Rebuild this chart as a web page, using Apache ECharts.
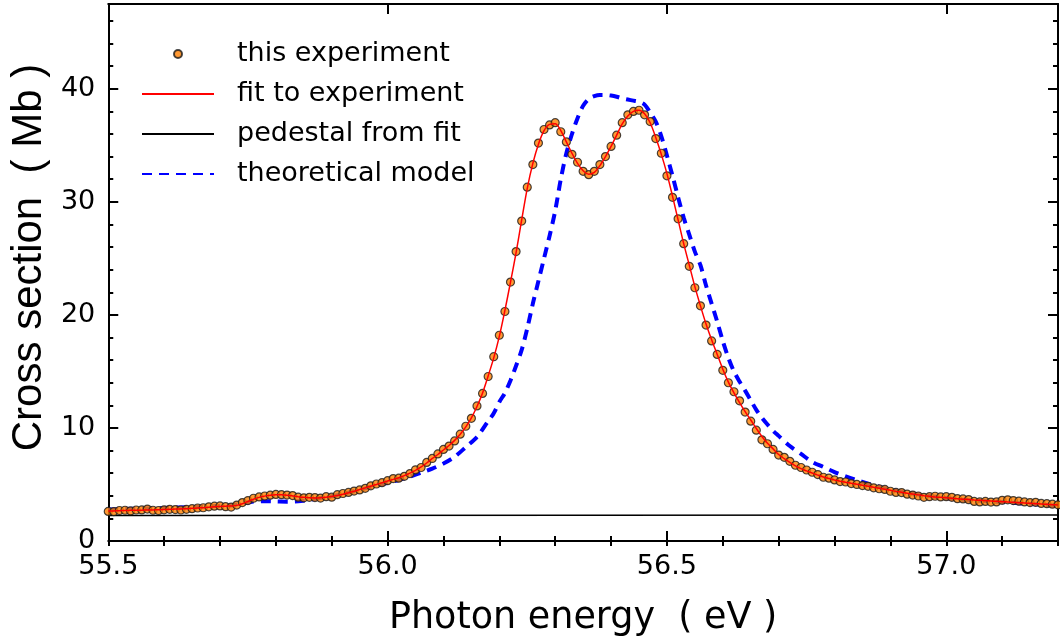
<!DOCTYPE html>
<html>
<head>
<meta charset="utf-8">
<script src="https://cdn.jsdelivr.net/npm/echarts@6/dist/echarts.min.js"></script>
<style>
html,body{margin:0;padding:0;background:#fff;}
#chart{width:1060px;height:642px;}
</style>
</head>
<body>
<div id="chart"></div>
<script>
// Energy grid for experiment and fit (eV), 55.50 .. 57.20 step 0.01
const energyStart = 55.5;
const energyStep = 0.01;

const experiment = [
2.62,2.60,2.70,2.72,2.66,2.74,2.75,2.82,2.72,2.70,
2.76,2.80,2.78,2.74,2.80,2.86,2.92,2.94,3.02,3.08,
3.10,3.04,3.00,3.18,3.40,3.58,3.78,3.90,3.98,4.05,
4.12,4.10,4.06,4.02,3.88,3.82,3.86,3.84,3.80,3.92,
3.88,4.10,4.20,4.30,4.42,4.52,4.66,4.88,5.04,5.16,
5.34,5.52,5.56,5.72,5.96,6.30,6.50,6.95,7.30,7.70,
8.10,8.40,8.85,9.45,10.15,10.85,11.95,13.05,14.55,16.30,
18.20,20.30,22.90,25.60,28.30,31.30,33.30,35.20,36.40,36.80,
37.00,36.20,35.30,34.20,33.50,32.70,32.40,32.70,33.30,34.00,
34.90,35.90,37.00,37.70,38.00,38.10,37.70,37.10,35.60,34.30,
32.30,30.40,28.50,26.30,24.30,22.40,20.80,19.10,17.70,16.50,
15.10,14.00,13.20,12.40,11.40,10.60,9.80,8.95,8.60,8.10,
7.60,7.40,7.05,6.70,6.50,6.28,6.08,5.88,5.64,5.56,
5.40,5.26,5.22,5.08,5.00,4.90,4.84,4.70,4.62,4.56,
4.40,4.30,4.28,4.14,4.06,3.98,3.86,3.92,3.96,3.90,
3.92,3.86,3.74,3.72,3.66,3.50,3.46,3.50,3.44,3.46,
3.60,3.64,3.58,3.52,3.46,3.40,3.42,3.32,3.30,3.26,
3.20
];

const fit = [
2.65,2.66,2.68,2.70,2.71,2.72,2.73,2.74,2.75,2.76,
2.78,2.80,2.82,2.84,2.86,2.89,2.92,2.95,2.99,3.03,
3.06,3.08,3.10,3.15,3.30,3.50,3.70,3.86,3.97,4.04,
4.08,4.08,4.05,3.99,3.92,3.86,3.82,3.81,3.83,3.87,
3.93,4.02,4.13,4.26,4.40,4.55,4.70,4.85,5.00,5.15,
5.30,5.45,5.60,5.78,6.00,6.25,6.55,6.90,7.30,7.65,
8.05,8.45,8.90,9.45,10.10,10.90,11.90,13.10,14.60,16.20,
18.10,20.40,22.90,25.50,28.40,31.20,33.40,35.10,36.30,36.85,
36.90,36.30,35.30,34.30,33.40,32.75,32.45,32.60,33.20,34.00,
34.90,35.90,36.90,37.60,38.00,38.10,37.80,37.00,35.70,34.20,
32.50,30.50,28.40,26.30,24.40,22.50,20.80,19.20,17.80,16.50,
15.20,14.05,13.10,12.25,11.45,10.70,9.95,9.25,8.65,8.15,
7.65,7.28,6.95,6.65,6.40,6.20,6.01,5.83,5.66,5.52,
5.40,5.29,5.19,5.10,5.02,4.93,4.84,4.75,4.66,4.57,
4.48,4.39,4.31,4.23,4.15,4.08,4.01,3.95,3.90,3.86,
3.82,3.78,3.74,3.70,3.67,3.63,3.60,3.57,3.54,3.51,
3.48,3.45,3.42,3.39,3.36,3.33,3.30,3.27,3.24,3.21,
3.18
];

// Theoretical model (eV, Mb)
const theoryEnergy = [
55.50,55.55,55.60,55.65,55.70,55.72,55.74,55.76,55.78,55.80,
55.82,55.84,55.86,55.88,55.90,55.92,55.94,55.96,55.98,56.00,
56.02,56.04,56.06,56.08,56.10,56.12,56.14,56.16,56.18,56.19,
56.20,56.21,56.22,56.23,56.24,56.25,56.26,56.27,56.28,56.29,
56.30,56.31,56.32,56.33,56.34,56.35,56.36,56.37,56.38,56.39,
56.40,56.41,56.42,56.43,56.44,56.45,56.46,56.47,56.48,56.49,
56.50,56.51,56.52,56.53,56.54,56.55,56.56,56.57,56.58,56.59,
56.60,56.61,56.62,56.63,56.64,56.65,56.66,56.67,56.68,56.69,
56.70,56.72,56.74,56.76,56.78,56.80,56.82,56.84,56.86,56.88,
56.90,56.93,56.96,57.00,57.03,57.06,57.10,57.15,57.20
];
const theoryValue = [
2.78,2.85,2.92,3.00,3.10,3.15,3.30,3.50,3.52,3.50,
3.48,3.52,3.65,3.80,3.95,4.15,4.40,4.65,4.90,5.15,
5.40,5.70,6.05,6.40,6.85,7.45,8.30,9.20,10.60,11.30,
12.30,13.10,14.20,15.50,16.90,18.80,21.00,23.00,25.00,27.00,
29.20,32.00,34.30,36.00,37.40,38.50,39.10,39.35,39.45,39.45,
39.40,39.30,39.15,39.05,38.95,38.85,38.60,37.90,37.10,35.80,
34.10,32.30,30.40,28.60,27.10,25.60,24.40,22.60,21.00,19.40,
17.70,16.20,15.00,14.10,13.30,12.45,11.60,10.90,10.30,9.75,
9.30,8.40,7.70,7.00,6.55,6.10,5.72,5.38,5.08,4.80,
4.55,4.27,4.05,3.80,3.64,3.55,3.44,3.28,3.10
];

// Pedestal from fit
const pedestalEnergy = [55.5, 57.2];
const pedestalValue = [2.26, 2.30];

const seriesNames = ['this experiment','fit to experiment','pedestal from fit','theoretical model'];
const xTitle = 'Photon energy  ( eV )';
const yTitle = 'Cross section  ( Mb )';

const grid = (arr) => arr.map((v, i) => [+(energyStart + i * energyStep).toFixed(2), v]);
const pairs = (xs, ys) => xs.map((x, i) => [x, ys[i]]);

const FONT = 'DejaVu Sans, sans-serif';
const FONT_Y = 'Liberation Sans, Arial, sans-serif';
const X_MIN = 55.5, X_MAX = 57.2, Y_MIN = 0, Y_MAX = 47.5;

function xAx(opts) {
  return Object.assign({
    type: 'value', min: X_MIN, max: X_MAX, position: 'bottom',
    axisLine: { show: false },
    axisTick: { show: true, inside: true, length: 10, lineStyle: { color: '#000', width: 2 } },
    axisLabel: { show: false },
    splitLine: { show: false }
  }, opts);
}
function yAx(opts) {
  return Object.assign({
    type: 'value', min: Y_MIN, max: Y_MAX, position: 'left',
    axisLine: { show: false },
    axisTick: { show: true, inside: true, length: 10, lineStyle: { color: '#000', width: 2 } },
    axisLabel: { show: false },
    splitLine: { show: false }
  }, opts);
}
const minorTick = { show: true, inside: true, length: 5, lineStyle: { color: '#000', width: 2 } };
const hideSym = { opacity: 0 };

const chart = echarts.init(document.getElementById('chart'), null, { renderer: 'canvas' });
chart.setOption({
  animation: false,
  backgroundColor: '#fff',
  textStyle: { fontFamily: FONT },
  grid: { left: 107, right: 2, top: 4, bottom: 99, containLabel: false },
  legend: {
    orient: 'vertical', left: 136, top: 29,
    itemWidth: 72, itemHeight: 8, itemGap: 0,
    textStyle: { fontFamily: FONT, fontSize: 27, color: '#000', lineHeight: 40, padding: [0, 0, 0, 18] },
    data: [
      { name: seriesNames[0] },
      { name: seriesNames[1], itemStyle: hideSym },
      { name: seriesNames[2], itemStyle: hideSym },
      { name: seriesNames[3], itemStyle: hideSym }
    ]
  },
  xAxis: [
    xAx({
      interval: 0.5,
      axisLine: { show: true, onZero: false, lineStyle: { color: '#000', width: 2 } },
      axisLabel: { show: true, color: '#000', fontSize: 27, fontFamily: FONT, margin: 12,
        showMaxLabel: false, formatter: (v) => v.toFixed(1) },
      name: xTitle, nameLocation: 'middle', nameGap: 59,
      nameTextStyle: { color: '#000', fontSize: 36.5, fontFamily: FONT }
    }),
    xAx({ interval: 0.1, axisTick: minorTick }),
    xAx({ interval: 0.5, position: 'top',
      axisLine: { show: true, onZero: false, lineStyle: { color: '#000', width: 2 } } }),
    xAx({ interval: 0.1, position: 'top', axisTick: minorTick })
  ],
  yAxis: [
    yAx({
      interval: 10,
      axisLine: { show: true, onZero: false, lineStyle: { color: '#000', width: 2 } },
      axisLabel: { show: true, color: '#000', fontSize: 27, fontFamily: FONT, margin: 13, showMaxLabel: false },
      name: yTitle, nameLocation: 'middle', nameGap: 54, nameRotate: 90,
      nameTextStyle: { color: '#000', fontSize: 42, fontFamily: FONT_Y, padding: [0, 0, 0, 30] }
    }),
    yAx({ interval: 2, axisTick: minorTick }),
    yAx({ interval: 10, position: 'right',
      axisLine: { show: true, onZero: false, lineStyle: { color: '#000', width: 2 } } }),
    yAx({ interval: 2, position: 'right', axisTick: minorTick })
  ],
  series: [
    {
      name: seriesNames[0], type: 'scatter', xAxisIndex: 0, yAxisIndex: 0,
      data: grid(experiment), symbol: 'circle', symbolSize: 8, z: 3,
      itemStyle: { color: '#ff8000', borderColor: '#1a1a1a', borderWidth: 1.2 }
    },
    {
      name: seriesNames[1], type: 'line', xAxisIndex: 0, yAxisIndex: 0,
      data: grid(fit), showSymbol: false, symbol: 'none', smooth: 0.3, z: 4,
      lineStyle: { color: '#ff0000', width: 1.5 }, itemStyle: { color: '#ff0000' }
    },
    {
      name: seriesNames[2], type: 'line', xAxisIndex: 0, yAxisIndex: 0,
      data: pairs(pedestalEnergy, pedestalValue), showSymbol: false, symbol: 'none', z: 2,
      lineStyle: { color: '#000', width: 1.5 }, itemStyle: { color: '#000' }
    },
    {
      name: seriesNames[3], type: 'line', xAxisIndex: 0, yAxisIndex: 0,
      data: pairs(theoryEnergy, theoryValue), showSymbol: false, symbol: 'none', smooth: 0.3, z: 2,
      lineStyle: { color: '#0000ff', width: 4, type: [10, 7] }, itemStyle: { color: '#0000ff' }
    }
  ]
});
</script>
</body>
</html>
